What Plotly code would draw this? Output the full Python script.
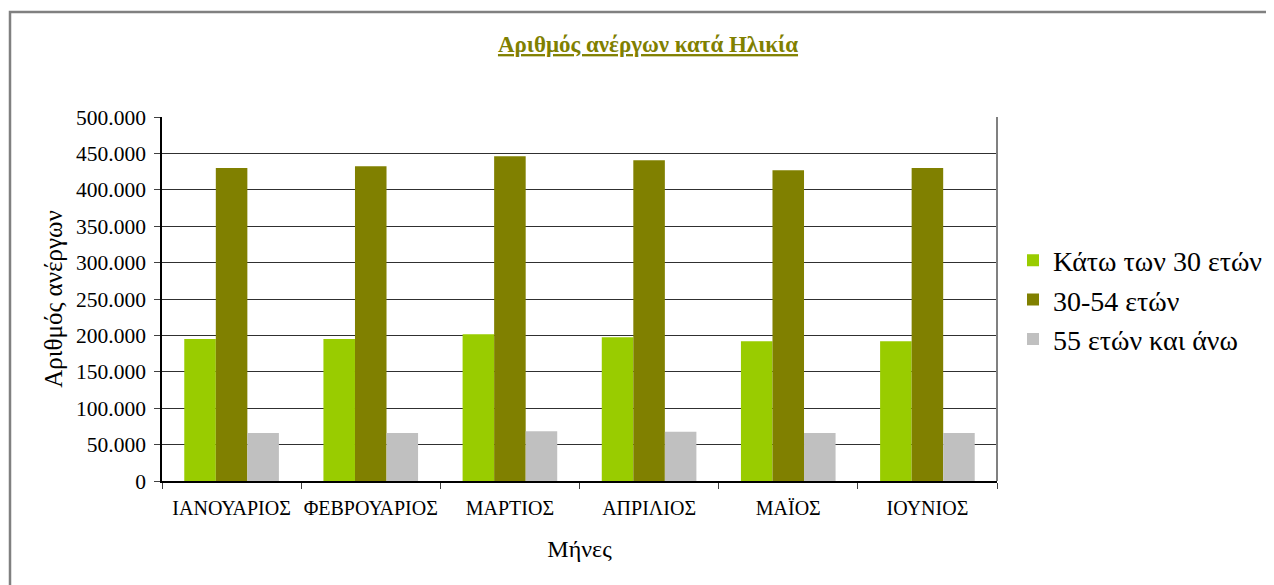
import plotly.graph_objects as go

months = ["ΙΑΝΟΥΑΡΙΟΣ", "ΦΕΒΡΟΥΑΡΙΟΣ", "ΜΑΡΤΙΟΣ", "ΑΠΡΙΛΙΟΣ", "ΜΑΪΟΣ", "ΙΟΥΝΙΟΣ"]
under30 = [195000, 195000, 201500, 197500, 192000, 192000]
age30_54 = [430000, 432500, 446000, 440500, 427000, 430000]
over55 = [66000, 66000, 68500, 67500, 66000, 66000]
series_names = ["Κάτω των 30 ετών", "30-54 ετών", "55 ετών και άνω"]
colors = ["#99CC00", "#808000", "#C0C0C0"]
yticks = list(range(0, 500001, 50000))
ytick_text = ["0"] + [f"{v//1000}.000" for v in yticks[1:]]

# page has an 8px body margin; figure coords = page coords - 8
OFF = 8
W, H = 1274 - OFF, 585 - OFF
L, T = 162 - OFF, 117 - OFF
PR, PB = 997 - OFF, 481 - OFF
R = W - PR
B = H - PB
pw, ph = W - L - R, H - T - B

fig = go.Figure()
for name, vals, c in zip(series_names, [under30, age30_54, over55], colors):
    fig.add_trace(go.Bar(x=months, y=vals, name=name, marker_color=c, marker_line_width=0))

font = "Liberation Serif, Times New Roman, serif"

def px_x(p):
    return (p - OFF - L) / pw

def px_y(p):
    return (H - B - (p - OFF)) / ph

fig.update_layout(
    width=W, height=H,
    margin=dict(l=L, r=R, t=T, b=B, autoexpand=False),
    paper_bgcolor="white", plot_bgcolor="white",
    barmode="group", bargap=0.32, bargroupgap=0,
    font=dict(family=font, color="black"),
    title=dict(text="<b><u>Αριθμός ανέργων κατά Ηλικία</u></b>",
               x=(648 - OFF) / W, xanchor="center", y=1 - (44 - OFF) / H, yanchor="middle",
               font=dict(family=font, size=23, color="#808000")),
    legend=dict(x=px_x(1013), xanchor="left", y=px_y(300), yanchor="middle",
                font=dict(family=font, size=28, color="black"),
                itemsizing="constant", bgcolor="rgba(0,0,0,0)"),
    showlegend=True,
)
fig.update_xaxes(
    showline=True, linecolor="black", linewidth=1.5, mirror=False,
    ticks="outside", tickson="boundaries", ticklen=6, tickcolor="#404040",
    ticklabelstandoff=8, tickangle=0,
    tickfont=dict(family=font, size=20, color="black"),
    title=dict(text="Μήνες", font=dict(family=font, size=24), standoff=22),
)
fig.update_yaxes(
    range=[0, 500000], tickvals=yticks, ticktext=ytick_text,
    showgrid=True, gridcolor="#303030", gridwidth=1,
    showline=True, linecolor="black", linewidth=1.5,
    ticks="outside", ticklen=6, tickcolor="#404040",
    ticklabelstandoff=4,
    tickfont=dict(family=font, size=21.5, color="black"),
    title=dict(text="Αριθμός ανέργων", font=dict(family=font, size=25), standoff=6),
    zeroline=False,
)
# plot-area right border
fig.add_shape(type="line", xref="paper", yref="paper", x0=1, x1=1, y0=0, y1=1,
              line=dict(color="#808080", width=2))
# outer chart border (left and top)
fig.add_shape(type="path", xref="paper", yref="paper",
              path=f"M {px_x(10)} {px_y(600)} L {px_x(10)} {px_y(12)} L {px_x(1300)} {px_y(12)}",
              line=dict(color="#808080", width=2.5))

fig.write_html("out.html")
